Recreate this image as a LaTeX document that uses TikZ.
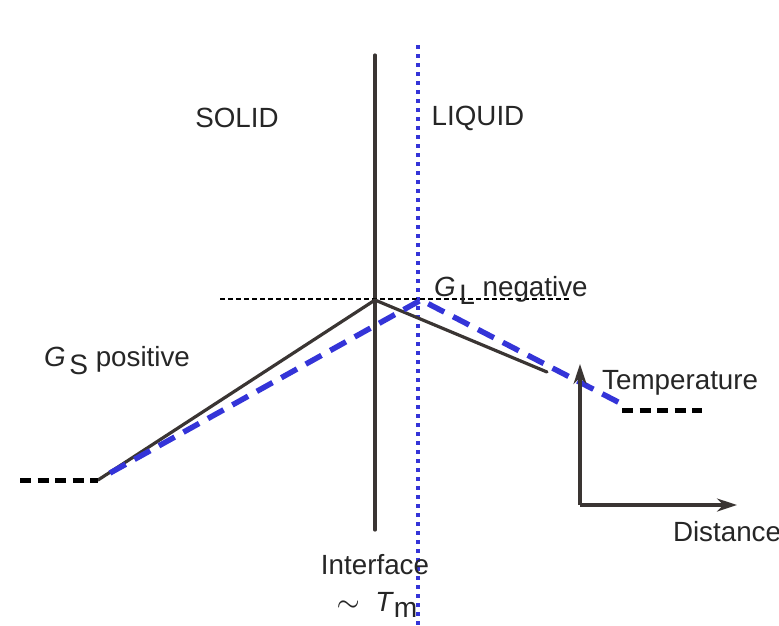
\documentclass[tikz,border=0pt]{standalone}
\usepackage{fontspec}
\setmainfont{Liberation Sans}
\usepackage{xcolor}
\usetikzlibrary{arrows.meta,calc}
\definecolor{cProfile}{HTML}{3A3533}
\definecolor{cBlue}{HTML}{3434D8}

\begin{document}
\begin{tikzpicture}[
  x=0.1mm,y=-0.1mm,
  font=\fontsize{7.9}{9.5}\selectfont,
  >={Stealth[length=2mm,width=1.3mm]},
  profile/.style ={draw=cProfile,line width=0.32mm,line cap=round,line join=round},
  interface/.style={draw=cProfile,line width=0.32mm,line cap=round},
  level/.style   ={draw=black,line width=0.16mm,dash pattern=on 0.5mm off 0.3mm},
  farlevel/.style={draw=black,line width=0.5mm,dash pattern=on 1.1mm off 0.65mm},
  model/.style   ={draw=cBlue,line width=0.55mm,dash pattern=on 1.8mm off 1.0mm},
  melt/.style    ={draw=cBlue,line width=0.45mm,dash pattern=on 0.4mm off 0.5mm},
  axis/.style    ={->,draw=cProfile,line width=0.32mm},
  lab/.style     ={text=black!85,inner sep=1pt},
]
\useasboundingbox (0,0) rectangle (779,625);

% =====================================================================
% INTERFACE AND MELTING-POINT LINES
% =====================================================================
\coordinate (ifTop) at (375,55);
\coordinate (ifBot) at (375,530);
\coordinate (tmTop) at (418,45);
\coordinate (tmBot) at (418,625);
\draw[interface] (ifTop) -- (ifBot);
\draw[melt] (tmTop) -- (tmBot);

% =====================================================================
% TEMPERATURE PROFILE (solid) AND SHIFTED PROFILE (blue dashed)
% =====================================================================
\coordinate (peak)    at (375,300);
\coordinate (solidEnd) at (98,480);
\coordinate (liqEnd)  at (547,372);
\coordinate (levL)    at (220,299);
\coordinate (levR)    at (570,299);
\draw[level] (levL) -- (levR);
\draw[profile] (solidEnd) -- (peak) -- (liqEnd);

\coordinate (bStart) at (110,473);
\coordinate (bPeak)  at (421,300);
\coordinate (bEnd)   at (620,403);
\draw[model] (bStart) -- (bPeak) -- (bEnd);

\coordinate (farS1) at (20,480);
\coordinate (farL1) at (622,410);
\coordinate (farL2) at (702,410);
\draw[farlevel] (farS1) -- (solidEnd);
\draw[farlevel] (farL1) -- (farL2);

% =====================================================================
% AXES
% =====================================================================
\coordinate (origin) at (580,505);
\coordinate (tTip)   at (580,364);
\coordinate (dTip)   at (737,505);
\draw[axis] (origin) -- (tTip);
\draw[axis] (origin) -- (dTip);

% =====================================================================
% LABELS
% =====================================================================
\node[lab] (solid)  at (237,118) {SOLID};
\node[lab] (liquid) at (478,118) {LIQUID};
\node[lab,anchor=west] (gs) at (40,361) {\textit{G}\kern1pt\raisebox{-0.55ex}{\footnotesize S} positive};
\node[lab,anchor=west] (gl) at (430,290) {\textit{G}\kern1pt\raisebox{-0.55ex}{\footnotesize L} negative};
\node[lab,anchor=west] (temp) at (598,383) {Temperature};
\node[lab] (dist)   at (727,532) {Distance};
\node[lab] (iface)  at (375,565) {Interface};
\node[lab] (tm)     at (377,605) {$\sim$\; \textit{T}\raisebox{-0.45ex}{\footnotesize m}};

\end{tikzpicture}
\end{document}
